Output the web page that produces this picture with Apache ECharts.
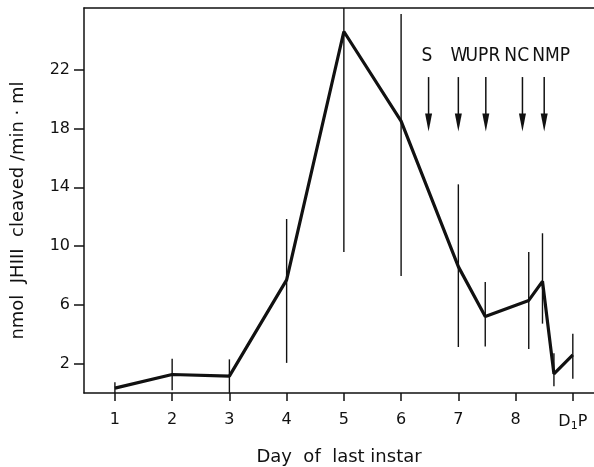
<!DOCTYPE html>
<html>
<head>
<meta charset="utf-8">
<script src="https://cdn.jsdelivr.net/npm/echarts@6/dist/echarts.min.js"></script>
<style>html,body{margin:0;padding:0;background:#fff}#c{width:594px;height:467px}</style>
</head>
<body>
<div id="c"></div>
<script>
// Day of last instar (9 = D1P)
const days = [1, 2, 3, 4, 5, 6, 7, 7.47, 8.23, 8.47, 8.67, 9];
const activity = [0.33, 1.26, 1.15, 7.7, 24.6, 18.5, 8.6, 5.2, 6.3, 7.6, 1.3, 2.6];
const barLow = [-0.1, 0.19, 0.01, 2.05, 9.6, 7.97, 3.13, 3.17, 3.0, 4.72, 0.46, 0.97];
const barHigh = [0.74, 2.33, 2.29, 11.84, 39.6, 25.8, 14.2, 7.56, 9.6, 10.87, 2.7, 4.04];
const xTicks = [1, 2, 3, 4, 5, 6, 7, 8, 9];
const yTicks = [2, 6, 10, 14, 18, 22];
const eventNames = ['S', 'W', 'UPR', 'NC', 'NMP'];
const eventArrowDay = [6.48, 7.0, 7.48, 8.12, 8.5];
const eventLabelDay = [6.45, 7.01, 7.43, 8.02, 8.62];
const arrowTop = 21.5, arrowBottom = 17.8, labelLevel = 22.9;

const FONT = '"DejaVu Sans", "Liberation Sans", sans-serif';
const CFONT = '"DejaVu Sans Condensed", "Liberation Sans Narrow", "DejaVu Sans", sans-serif';
const INK = '#111';

const chart = echarts.init(document.getElementById('c'));
chart.setOption({
  animation: false,
  backgroundColor: '#fff',
  grid: { left: 84, right: 0, top: 8, bottom: 74, outerBoundsMode: 'none', containLabel: false },
  xAxis: [{
    type: 'value', min: 0.46, max: 9.37,
    name: 'Day  of  last instar', nameLocation: 'middle', nameGap: 55,
    nameTextStyle: { fontFamily: FONT, fontSize: 18, color: INK },
    axisLine: { show: true, lineStyle: { color: INK, width: 1.5 } },
    axisTick: { show: true, customValues: xTicks, length: 8, lineStyle: { color: INK, width: 1.5 } },
    axisLabel: {
      customValues: xTicks, margin: 19, fontFamily: FONT, fontSize: 16, color: INK,
      formatter: v => v === 9 ? 'D{s|1}P' : String(v),
      rich: { s: { fontFamily: FONT, fontSize: 11, color: INK, verticalAlign: 'bottom', padding: [9, 0, 0, 0] } }
    },
    splitLine: { show: false }
  }, {
    type: 'value', min: 0.46, max: 9.37, position: 'top',
    axisLine: { show: true, lineStyle: { color: INK, width: 1.5 } },
    axisTick: { show: false }, axisLabel: { show: false }, splitLine: { show: false }
  }],
  yAxis: {
    type: 'value', min: 0, max: 26.2,
    name: 'nmol  JHIII  cleaved /min · ml', nameLocation: 'middle', nameGap: 57, nameRotate: 90,
    nameTextStyle: { fontFamily: FONT, fontSize: 18, color: INK, padding: [0, 20, 0, 0] },
    axisLine: { show: true, lineStyle: { color: INK, width: 1.5 } },
    axisTick: { show: true, customValues: yTicks, length: 10, lineStyle: { color: INK, width: 1.5 } },
    axisLabel: { customValues: yTicks, margin: 14, fontFamily: FONT, fontSize: 16, color: INK },
    splitLine: { show: false }
  },
  series: [{
    type: 'custom', clip: true, z: 2,
    data: days.map((d, i) => [d, barLow[i], barHigh[i]]),
    renderItem: (params, api) => {
      const a = api.coord([api.value(0), api.value(1)]);
      const b = api.coord([api.value(0), api.value(2)]);
      return { type: 'line', shape: { x1: a[0], y1: a[1], x2: b[0], y2: b[1] }, style: { stroke: INK, lineWidth: 1.4 } };
    }
  }, {
    type: 'line', z: 3, symbol: 'none',
    data: days.map((d, i) => [d, activity[i]]),
    lineStyle: { color: INK, width: 3.2 }
  }, {
    type: 'custom', z: 4,
    data: eventNames.map((n, i) => [eventArrowDay[i], eventLabelDay[i]]),
    renderItem: (params, api) => {
      const x = api.value(0);
      const t = api.coord([x, arrowTop]);
      const b = api.coord([x, arrowBottom]);
      const l = api.coord([api.value(1), labelLevel]);
      return {
        type: 'group', children: [
          { type: 'line', shape: { x1: t[0], y1: t[1], x2: b[0], y2: b[1] - 10 }, style: { stroke: INK, lineWidth: 1.5 } },
          { type: 'polygon', shape: { points: [[b[0] - 3.5, b[1] - 18], [b[0] + 3.5, b[1] - 18], [b[0], b[1]]] }, style: { fill: INK } },
          { type: 'text', x: l[0], y: l[1], style: { text: eventNames[params.dataIndex], fontFamily: CFONT, fontSize: 19, fill: INK, align: 'center', verticalAlign: 'middle' } }
        ]
      };
    }
  }]
});
</script>
</body>
</html>
